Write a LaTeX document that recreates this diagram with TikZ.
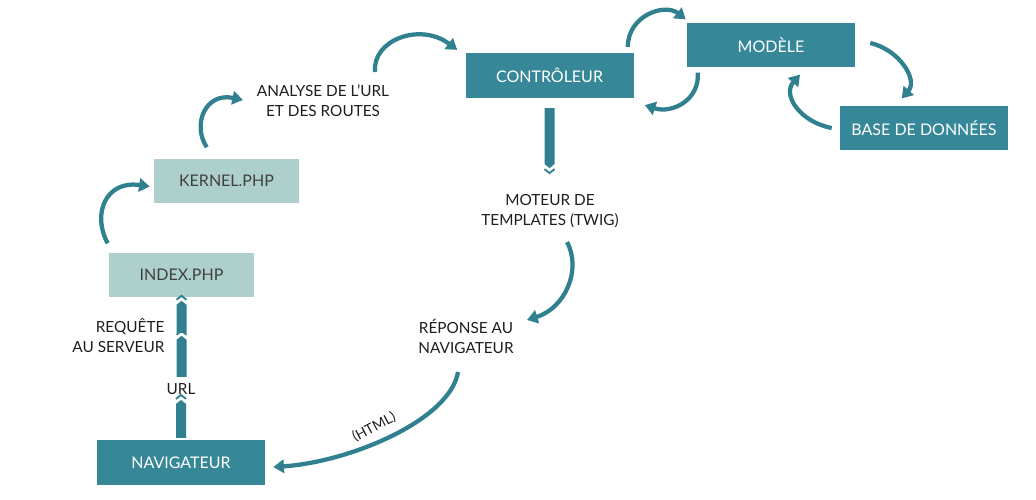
\documentclass[tikz,border=0pt]{standalone}
\usepackage{fontspec}
\setmainfont{Lato}
\usetikzlibrary{arrows.meta,calc}
\definecolor{tealD}{HTML}{368898}
\definecolor{tealL}{HTML}{ADD0CC}
\definecolor{arrc}{HTML}{30808F}
\definecolor{txt}{HTML}{1E1E1E}
\begin{document}
\begin{tikzpicture}[x=0.75pt,y=-0.75pt,
  dbox/.style={fill=tealD,text=white,minimum width=126pt,minimum height=33.5pt,inner sep=0pt,font=\fontsize{12}{13}\selectfont},
  lbox/.style={fill=tealL,text=txt!85,minimum width=108.75pt,minimum height=33pt,inner sep=0pt,font=\fontsize{12}{13}\selectfont},
  lab/.style={text=txt,align=center,inner sep=1pt,font=\fontsize{11.5}{15}\selectfont},
  carrow/.style={draw=arrc,line width=3.2pt,-{Triangle[length=8pt,width=10pt]}},
  pics/upchev/.style={code={
    \fill[arrc] (-5,0)--(-5,-#1)--(0,-#1-4)--(5,-#1)--(5,0)--cycle;
    \draw[arrc,line width=1.4pt] (-5,-#1-5)--(0,-#1-9)--(5,-#1-5);}},
  pics/downchev/.style={code={
    \fill[arrc] (-5,0)--(-5,#1)--(0,#1+4)--(5,#1)--(5,0)--cycle;
    \draw[arrc,line width=1.4pt] (-5,#1+5)--(0,#1+9)--(5,#1+5);}}
]
\useasboundingbox (0,0) rectangle (1036,500);

% boxes
\node[dbox] (mod) at (771,45) {MODÈLE};
\node[dbox] (ctrl) at (549.5,75.5) {CONTRÔLEUR};
\node[dbox] (base) at (924,128) {BASE DE DONNÉES};
\node[lbox] (kern) at (226.5,180.5) {KERNEL.PHP};
\node[lbox] (idx) at (181.5,274.5) {INDEX.PHP};
\node[dbox] (nav) at (181,462.5) {NAVIGATEUR};

% labels
\node[lab] (ana) at (323,101) {ANALYSE DE L’URL\\ET DES ROUTES};
\node[lab] (mot) at (550,211) {MOTEUR DE\\TEMPLATES (TWIG)};
\node[lab] (rep) at (466,336) {RÉPONSE AU\\NAVIGATEUR};
\node[lab,align=right,anchor=east] (req) at (166,336) {REQUÊTE\\AU SERVEUR};
\node[lab] (url) at (181,389) {URL};
\node[lab,rotate=28,font=\fontsize{10.5}{12}\selectfont] (html) at (374,427) {(HTML)};

% vertical chevron arrows
\pic at ($(nav.north)+(0,-2)$) {upchev=34};
\pic at ($(idx.south)+(0,80)$) {upchev=37};
\pic at ($(idx.south)+(0,36)$) {upchev=28};
\pic at ($(ctrl.south)+(0,10)$) {downchev=56};

% curved arrows
\draw[carrow] ($(idx.north west)+(-1,-9)$) .. controls (92,215) and (105,180) .. ($(kern.west)+(-4,6)$);
\draw[carrow] ($(kern.north west)+(53,-11)$) .. controls (192,125) and (205,92) .. ($(ana)+(-80,-1)$);
\draw[carrow] ($(ana)+(52,-29)$) .. controls (372,40) and (420,22) .. ($(ctrl.north west)+(-8,-3)$);
\draw[carrow] ($(ctrl.north east)+(-6,-6)$) .. controls (628,15) and (665,3) .. ($(mod.north west)+(-1,-3)$);
\draw[carrow] ($(mod.south west)+(11,5)$) .. controls (700,100) and (672,114) .. ($(ctrl.south east)+(11,7)$);
\draw[carrow] ($(mod.east)+(15,-2)$) .. controls (900,50) and (918,80) .. ($(base.north west)+(62,-7)$);
\draw[carrow] ($(base.west)+(-8,0)$) .. controls (800,122) and (782,95) .. ($(mod.south)+(29,7)$);
\draw[carrow] ($(mot)+(17,31)$) .. controls (582,270) and (565,308) .. ($(rep)+(61,-16)$);
\draw[carrow] ($(rep)+(-8,36)$) .. controls (450,420) and (350,462) .. ($(nav.east)+(8,4.5)$);
\end{tikzpicture}
\end{document}
